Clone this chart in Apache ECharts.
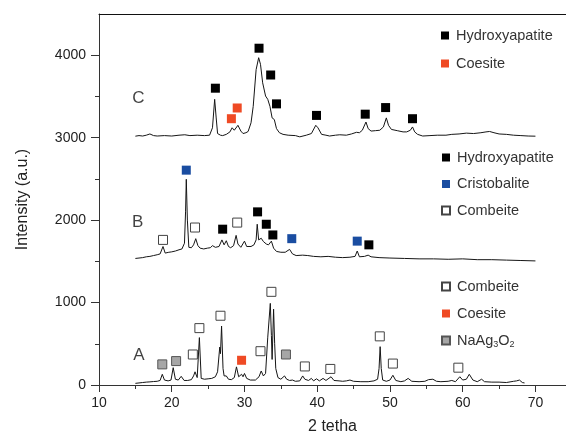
<!DOCTYPE html>
<html>
<head>
<meta charset="utf-8">
<script src="https://cdn.jsdelivr.net/npm/echarts@6/dist/echarts.min.js"></script>
<style>
  html, body { margin: 0; padding: 0; background: #fff; }
  #chart { width: 566px; height: 440px; }
</style>
</head>
<body>
<div id="chart"></div>
<script>
// 衍射曲线 [2θ, 强度]
const traceA = [
  [15,20],[15.5,25],[16,30],[16.5,35],[17,38],[17.5,42],[18,45],[18.4,55],[18.7,130],[19,60],[19.5,50],[19.9,60],
  [20.2,210],[20.5,70],[20.9,60],[21.3,105],[21.7,55],[22.2,55],[22.7,65],[23.0,110],[23.2,160],[23.5,90],[23.8,575],
  [24.05,80],[24.5,70],[25,75],[25.5,80],[26.0,100],[26.3,160],[26.6,460],[26.7,380],[26.85,715],[27.05,200],[27.2,110],
  [27.5,110],[27.8,70],[28.2,65],[28.6,90],[28.9,220],[29.2,100],[29.6,130],[29.8,100],[30.0,140],[30.3,80],[30.8,60],
  [31.5,60],[32.0,100],[32.3,170],[32.6,110],[32.9,140],[33.2,580],[33.4,600],[33.55,990],[33.7,600],[33.8,310],[34.0,920],
  [34.15,500],[34.3,200],[34.6,90],[35.0,70],[35.5,110],[35.8,70],[36.2,55],[36.6,60],[37,45],[37.6,50],[38.0,110],
  [38.3,70],[38.8,55],[39.2,80],[39.5,50],[39.9,75],[40.3,50],[40.8,80],[41.2,55],[41.9,100],[42.3,55],[43,50],[43.5,45],
  [44.0,50],[44.5,60],[45,45],[46,40],[47,40],[47.8,50],[48.3,70],[48.5,200],[48.65,465],[48.8,200],[49.0,60],[49.5,45],
  [50.0,60],[50.4,118],[50.8,55],[51.5,40],[52.0,50],[52.5,80],[53,45],[54,40],[54.8,45],[55.3,65],[55.9,70],[56.4,45],
  [57,40],[58,45],[58.5,55],[59,40],[59.6,100],[60.0,60],[60.5,70],[60.9,130],[61.4,60],[62,40],[62.6,70],[63,40],
  [64,35],[65,35],[66,30],[67,45],[67.4,50],[67.8,60],[68.2,30],[68.5,25]
];
const traceB = [
  [15,1535],[15.5,1540],[16,1545],[16.5,1555],[17,1560],[17.5,1570],[18,1580],[18.4,1590],[18.8,1680],[19.1,1600],
  [19.6,1610],[20,1615],[20.5,1625],[21,1640],[21.4,1650],[21.75,1720],[21.9,2100],[22.0,2495],[22.15,2000],[22.35,1670],
  [22.7,1665],[23.0,1700],[23.3,1775],[23.6,1690],[23.9,1660],[24.4,1650],[24.9,1660],[25.3,1665],[25.6,1690],[26.0,1670],
  [26.5,1680],[26.9,1760],[27.2,1700],[27.5,1750],[27.8,1680],[28.1,1665],[28.5,1690],[28.85,1815],[29.1,1710],[29.5,1670],
  [30.0,1745],[30.3,1680],[30.9,1680],[31.3,1700],[31.6,1760],[31.75,1950],[31.95,1760],[32.3,1780],[32.6,1740],[33.0,1710],
  [33.3,1700],[33.7,1745],[34.0,1660],[34.4,1620],[35,1610],[35.6,1610],[36.2,1645],[36.6,1590],[37.1,1570],[38,1575],
  [38.7,1570],[39.5,1560],[40.5,1555],[41.5,1560],[42.5,1550],[43.5,1545],[44.5,1550],[45.2,1560],[45.5,1625],[45.8,1555],
  [46.5,1560],[47.0,1575],[47.4,1555],[48.5,1545],[50,1540],[52,1535],[54,1530],[56,1530],[58,1525],[60,1530],[62,1520],
  [64,1520],[66,1515],[68,1510],[70,1505]
];
const traceC = [
  [15,3018],[15.5,3025],[16,3020],[16.5,3030],[17,3045],[17.5,3025],[18,3020],[19,3025],[20,3020],[21,3030],[21.8,3035],
  [22.5,3025],[23.5,3030],[24.5,3025],[25.2,3030],[25.6,3120],[25.9,3465],[26.1,3250],[26.3,3050],[26.7,3030],[27.0,3025],
  [27.5,3040],[28.0,3070],[28.3,3120],[28.6,3090],[29.1,3150],[29.5,3080],[29.8,3050],[30.2,3060],[30.5,3075],[30.9,3180],
  [31.2,3380],[31.6,3825],[31.95,3970],[32.2,3890],[32.5,3665],[32.9,3505],[33.2,3465],[33.5,3380],[33.8,3240],[34.1,3220],
  [34.4,3110],[34.8,3060],[35.3,3040],[36,3030],[37,3025],[37.6,3010],[38.5,3030],[39.2,3050],[39.8,3150],[40.1,3120],
  [40.6,3040],[41.2,3030],[41.7,3020],[42.5,3030],[43.1,3035],[44,3030],[44.7,3045],[45.4,3065],[45.8,3060],[46.2,3090],
  [46.7,3190],[47.0,3110],[47.4,3080],[48,3085],[48.6,3090],[49.1,3130],[49.5,3240],[49.8,3150],[50.2,3100],[51,3085],
  [51.8,3070],[52.3,3070],[52.8,3090],[53.1,3130],[53.4,3070],[53.8,3040],[54.5,3020],[55.5,3025],[56.5,3030],[57.7,3030],
  [58.5,3040],[59.5,3045],[60.5,3055],[61.5,3050],[62.5,3060],[63.2,3070],[63.7,3075],[64.3,3060],[65,3045],[66,3040],
  [67,3030],[68,3025],[69,3020],[70,3018]
];

// 物相标记
const hydroxyapatite = [[26.0,3600],[32.0,4085],[33.6,3760],[34.4,3410],[39.9,3270],[46.6,3285],[49.4,3365],[53.1,3230],
  [27.0,1890],[31.8,2100],[33.0,1950],[33.9,1820],[47.1,1700]];
const coesite = [[28.2,3230],[29.0,3360],[29.6,300]];
const cristobalite = [[22.0,2606],[36.5,1775],[45.5,1745]];
const combeite = [[18.8,1760],[23.2,1910],[29.0,1970],
  [22.9,370],[23.8,690],[26.7,840],[32.2,410],[33.7,1130],[38.3,225],[41.8,195],[48.6,590],[50.4,260],[59.4,210]];
const naAg3O2 = [[18.7,250],[20.6,290],[35.7,370]];

// 曲线标签
const traceNames = ['A', 'B', 'C'];
const traceLabelPos = [[15.5,360],[15.3,1975],[15.4,3475]];

// 刻度
const xTicks = [10, 20, 30, 40, 50, 60, 70];
const xMinor = [15, 25, 35, 45, 55, 65];
const yTicks = [0, 1000, 2000, 3000, 4000];
const yMinor = [500, 1500, 2500, 3500];

const legendC = ['Hydroxyapatite', 'Coesite'];
const legendB = ['Hydroxyapatite', 'Cristobalite', 'Combeite'];
const legendA = ['Combeite', 'Coesite', 'NaAg3O2'];

const FONT = 'Liberation Sans';
const X_MAX = 74.2;

function lineSeries(data) {
  return {
    type: 'line', data: data, showSymbol: false, silent: true,
    lineStyle: {color: '#151515', width: 1}
  };
}

function markerSeries(name, data, fill, border) {
  return {
    type: 'scatter', name: name, data: data, symbol: 'rect', symbolSize: 9, silent: true,
    itemStyle: {color: fill, borderColor: border || fill, borderWidth: border ? 1 : 0, opacity: 1}
  };
}

function makeLegend(names, top, gap) {
  return {
    data: names, orient: 'vertical', left: 441, top: top, padding: 0, itemGap: gap,
    itemWidth: 8, itemHeight: 8, icon: 'rect', selectedMode: false,
    formatter: n => n === 'NaAg3O2' ? 'NaAg{s|3}O{s|2}' : n,
    textStyle: {
      fontFamily: FONT, fontSize: 14.5, color: '#333', padding: [0, 0, 0, 2],
      rich: {s: {fontFamily: FONT, fontSize: 9, color: '#333', padding: [9, 0, 0, 0]}}
    }
  };
}

function initChart(id) {
  let chart = echarts.init(document.getElementById(id));
  const axisText = {fontFamily: FONT, fontSize: 14, color: '#222', formatter: v => String(v)};
  chart.setOption({
    animation: false,
    grid: {left: 99, top: 14, right: 0, bottom: 54},
    legend: [makeLegend(legendC, 28, 13), makeLegend(legendB, 150, 11.5), makeLegend(legendA, 279, 12)],
    xAxis: [{
      type: 'value', min: 10, max: X_MAX, position: 'bottom',
      name: '2 tetha', nameLocation: 'middle', nameGap: 34,
      nameTextStyle: {fontFamily: FONT, fontSize: 16, color: '#222'},
      axisLine: {lineStyle: {color: '#333', width: 1}},
      axisTick: {customValues: xTicks, length: 7, lineStyle: {color: '#333'}},
      axisLabel: Object.assign({customValues: xTicks, margin: 11}, axisText),
      splitLine: {show: false}
    }, {
      type: 'value', min: 10, max: X_MAX, position: 'bottom',
      axisLine: {show: false}, axisLabel: {show: false}, splitLine: {show: false},
      axisTick: {customValues: xMinor, length: 4, lineStyle: {color: '#333'}}
    }, {
      type: 'value', min: 10, max: X_MAX, position: 'top',
      axisLine: {show: true, lineStyle: {color: '#111', width: 1}},
      axisTick: {show: false}, axisLabel: {show: false}, splitLine: {show: false}
    }],
    yAxis: [{
      type: 'value', min: 0, max: 4500, position: 'left',
      name: 'Intensity (a.u.)', nameLocation: 'middle', nameGap: 68,
      nameTextStyle: {fontFamily: FONT, fontSize: 16, color: '#222'},
      axisLine: {show: true, lineStyle: {color: '#333', width: 1}},
      axisTick: {show: true, customValues: yTicks, length: 8, lineStyle: {color: '#333'}},
      axisLabel: Object.assign({customValues: yTicks, margin: 13}, axisText),
      splitLine: {show: false}
    }, {
      type: 'value', min: 0, max: 4500, position: 'left',
      axisLine: {show: false}, axisLabel: {show: false}, splitLine: {show: false},
      axisTick: {show: true, customValues: yMinor, length: 4, lineStyle: {color: '#333'}}
    }],
    series: [
      lineSeries(traceA), lineSeries(traceB), lineSeries(traceC),
      markerSeries('Hydroxyapatite', hydroxyapatite, '#000'),
      markerSeries('Coesite', coesite, '#ef4a24'),
      markerSeries('Cristobalite', cristobalite, '#1a4da1'),
      markerSeries('Combeite', combeite, '#fff', '#444'),
      markerSeries('NaAg3O2', naAg3O2, '#a6a6a6', '#555'),
      {
        type: 'scatter', silent: true, symbolSize: 0,
        data: traceNames.map((n, i) => ({name: n, value: traceLabelPos[i]})),
        label: {show: true, position: 'inside', formatter: p => p.name, fontFamily: FONT, fontSize: 17, color: '#111'}
      }
    ]
  });
}

initChart('chart');
</script>
</body>
</html>
